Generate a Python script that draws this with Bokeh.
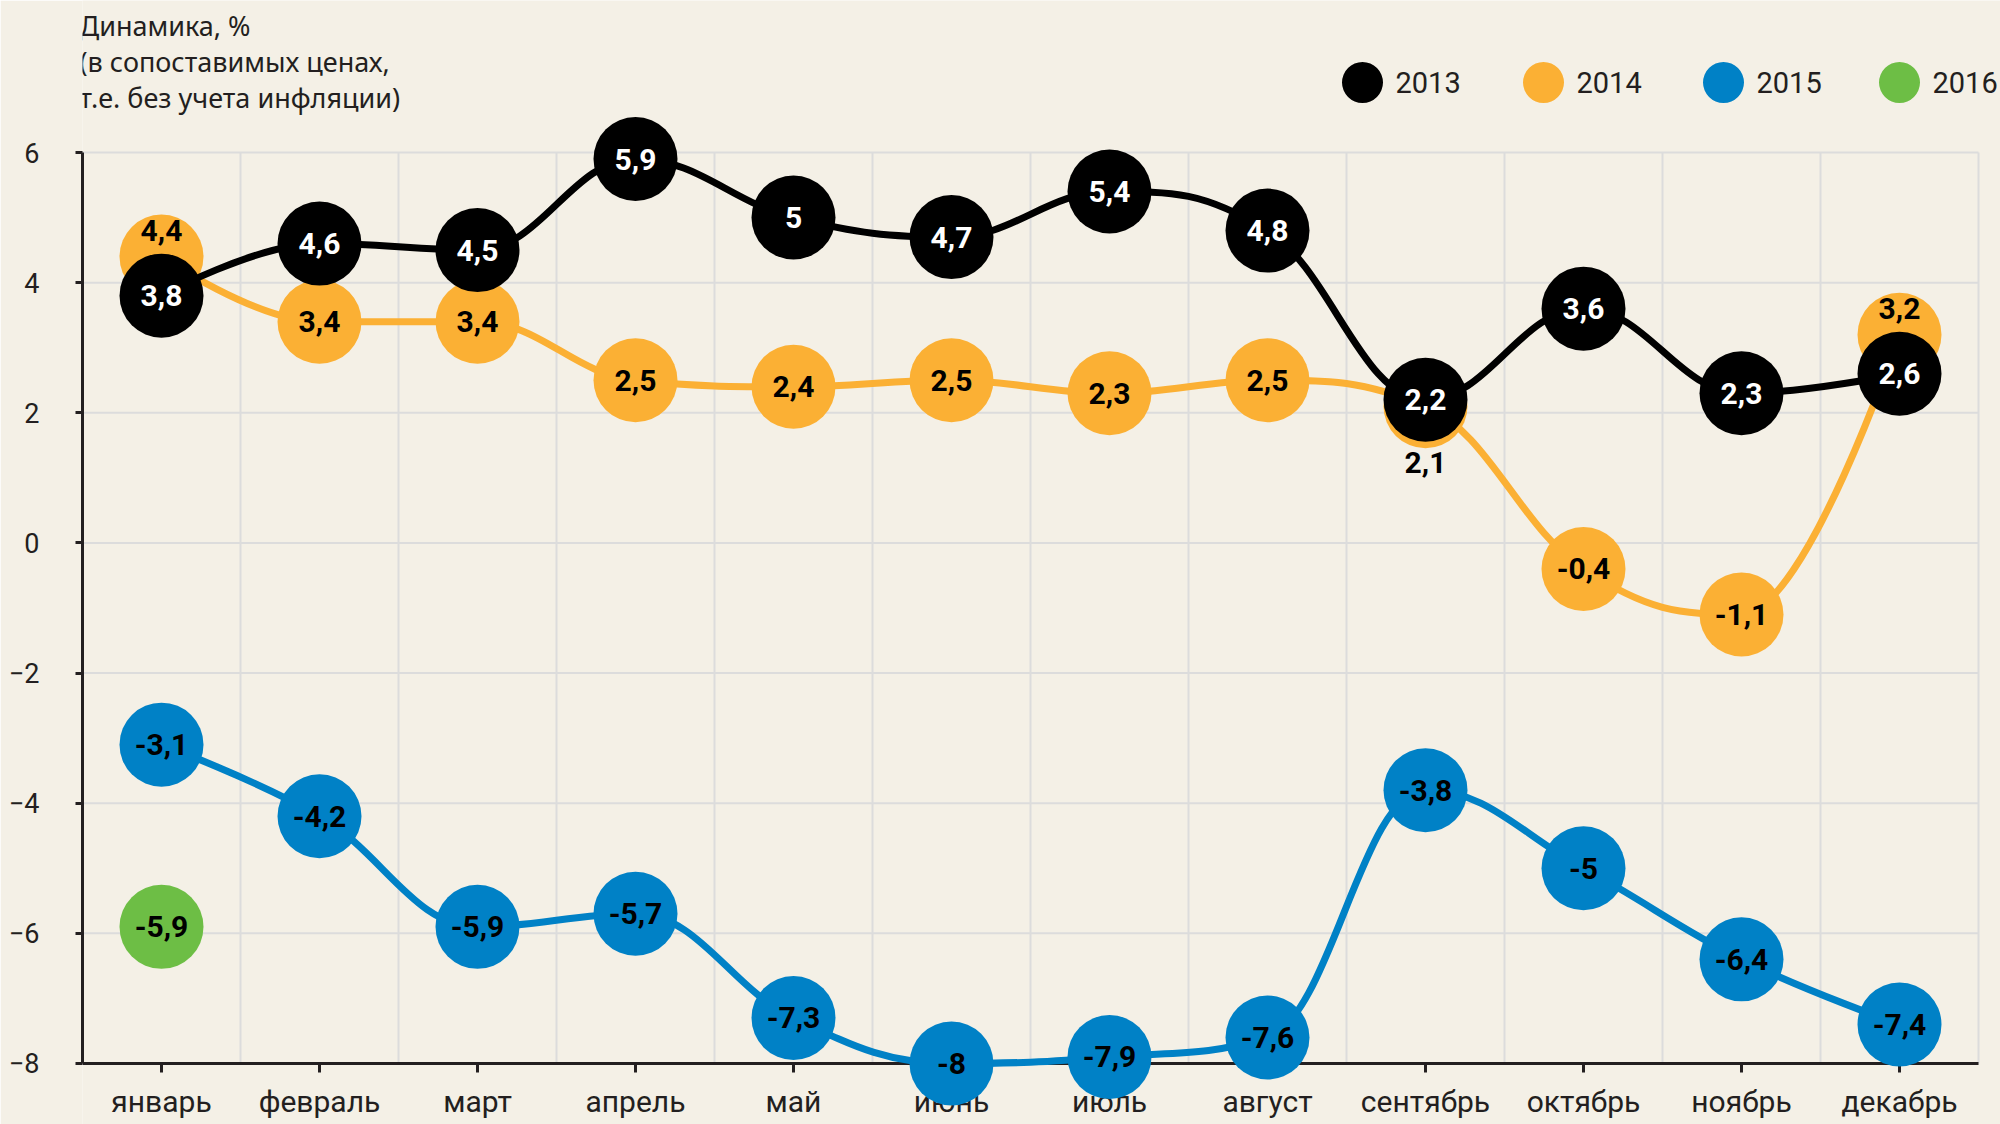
from bokeh.plotting import figure
from bokeh.models import FixedTicker, Label, Range1d, ColumnDataSource
from bokeh.core.properties import value
from bokeh.embed import file_html
from bokeh.resources import INLINE

# ---------------- data ----------------
months = ["январь", "февраль", "март", "апрель", "май", "июнь",
          "июль", "август", "сентябрь", "октябрь", "ноябрь", "декабрь"]
years = ["2013", "2014", "2015", "2016"]
v2013 = [3.8, 4.6, 4.5, 5.9, 5.0, 4.7, 5.4, 4.8, 2.2, 3.6, 2.3, 2.6]
v2014 = [4.4, 3.4, 3.4, 2.5, 2.4, 2.5, 2.3, 2.5, 2.1, -0.4, -1.1, 3.2]
v2015 = [-3.1, -4.2, -5.9, -5.7, -7.3, -8.0, -7.9, -7.6, -3.8, -5.0, -6.4, -7.4]
v2016 = [-5.9]
y_ticks = [-8, -6, -4, -2, 0, 2, 4, 6]
title_lines = ["Динамика, %", "(в сопоставимых ценах,", "т.е. без учета инфляции)"]

# ---------------- style ----------------
BG = "#F4F0E6"
GRID = "#DCDCDC"
INK = "#231F20"
C2013, C2014, C2015, C2016 = "#000000", "#FBB034", "#0081C6", "#6DBE45"
LBL = "Roboto"
SANS = "Noto Sans"

W, H = 2000, 1124
LEFT, RIGHT = 82, 0
X0_PX, DX = 161.0, 158.0          # canvas x of first month, px per month
Y6_PX, YPU = 152.0, 65.07         # canvas y of value 6, px per unit

x_start = -(X0_PX - LEFT) / DX
x_end = (W - RIGHT - X0_PX) / DX
x_last = len(months) - 0.5        # right edge of the plotting area
y_end = 6 + Y6_PX / YPU
y_start = 6 - (H - Y6_PX) / YPU


def dxp(px):
    return (px - X0_PX) / DX


def dyp(py):
    return 6 - (py - Y6_PX) / YPU


def fmt(v):
    return f"{v:g}".replace(".", ",")


def spline(xs, ys, smoothing=1.5):
    n = len(xs)
    den = smoothing + 1
    left = [None] * n
    right = [None] * n
    for i in range(n):
        x, y = xs[i], ys[i]
        if 0 < i < n - 1:
            lx = (smoothing * x + xs[i - 1]) / den
            ly = (smoothing * y + ys[i - 1]) / den
            rx = (smoothing * x + xs[i + 1]) / den
            ry = (smoothing * y + ys[i + 1]) / den
            if rx != lx:
                s = (ry - ly) / (rx - lx)
                ly = (lx - x) * s + y
                ry = (rx - x) * s + y
            if ly > max(ys[i - 1], y):
                ly = max(ys[i - 1], y); ry = 2 * y - ly
            elif ly < min(ys[i - 1], y):
                ly = min(ys[i - 1], y); ry = 2 * y - ly
            if ry > max(y, ys[i + 1]):
                ry = max(y, ys[i + 1]); ly = 2 * y - ry
            elif ry < min(y, ys[i + 1]):
                ry = min(y, ys[i + 1]); ly = 2 * y - ry
            left[i] = (lx, ly); right[i] = (rx, ry)
        else:
            left[i] = right[i] = (x, y)
    d = dict(x0=[], y0=[], x1=[], y1=[], cx0=[], cy0=[], cx1=[], cy1=[])
    for i in range(1, n):
        d["x0"].append(xs[i - 1]); d["y0"].append(ys[i - 1])
        d["x1"].append(xs[i]); d["y1"].append(ys[i])
        d["cx0"].append(right[i - 1][0]); d["cy0"].append(right[i - 1][1])
        d["cx1"].append(left[i][0]); d["cy1"].append(left[i][1])
    return d


p = figure(width=W, height=H, output_backend="svg", toolbar_location=None,
           x_range=Range1d(x_start, x_end), y_range=Range1d(y_start, y_end),
           background_fill_color=BG, border_fill_color=BG,
           min_border_left=LEFT, min_border_right=RIGHT,
           min_border_top=0, min_border_bottom=0)
p.outline_line_color = None

# grids (drawn as segments so they stop at the plotting area)
p.xgrid.visible = False
p.ygrid.visible = False
xs_idx = list(range(len(months)))
p.segment(x0=[i + 0.5 for i in xs_idx], x1=[i + 0.5 for i in xs_idx],
          y0=[min(y_ticks)] * len(xs_idx), y1=[max(y_ticks)] * len(xs_idx),
          line_color=GRID, line_width=2, level="underlay")
p.segment(x0=[x_start] * len(y_ticks), x1=[x_last] * len(y_ticks),
          y0=y_ticks, y1=y_ticks,
          line_color=GRID, line_width=2, level="underlay")

# axes
xa = p.xaxis[0]
xa.fixed_location = min(y_ticks)
xa.bounds = (x_start, x_last)
xa.level = "underlay"
xa.ticker = FixedTicker(ticks=xs_idx)
xa.major_label_overrides = {i: m for i, m in enumerate(months)}
xa.minor_tick_line_color = None
xa.major_tick_in = 0
xa.major_tick_out = 9
xa.major_tick_line_width = 3
xa.major_tick_line_color = INK
xa.axis_line_width = 3
xa.axis_line_color = INK
xa.major_label_standoff = 12
xa.major_label_text_font = LBL
xa.major_label_text_font_size = "30px"
xa.major_label_text_color = INK

ya = p.yaxis[0]
ya.bounds = (min(y_ticks), max(y_ticks))
ya.ticker = FixedTicker(ticks=y_ticks)
ya.minor_tick_line_color = None
ya.major_tick_in = 0
ya.major_tick_out = 7
ya.major_tick_line_width = 3
ya.major_tick_line_color = INK
ya.axis_line_width = 3
ya.axis_line_color = INK
ya.major_label_standoff = 36
ya.major_label_text_font = LBL
ya.major_label_text_font_size = "27px"
ya.major_label_text_color = INK

SIZE = 84
FONT_SIZE = "30px"


def series(vals, color, txt_color, dys=None):
    xs = list(range(len(vals)))
    if len(vals) > 1:
        p.bezier(source=ColumnDataSource(spline(xs, vals)), x0="x0", y0="y0",
                 x1="x1", y1="y1", cx0="cx0", cy0="cy0", cx1="cx1", cy1="cy1",
                 line_color=color, line_width=7, line_cap="round")
    src = ColumnDataSource(dict(x=xs, y=vals, t=[fmt(v) for v in vals],
                                dy=dys if dys else [0] * len(vals)))
    p.scatter("x", "y", source=src, size=SIZE, fill_color=color, line_color=None)
    p.text("x", "y", text="t", source=src, y_offset="dy",
           text_font=value(LBL), text_font_size=value(FONT_SIZE),
           text_font_style="bold", text_color=txt_color,
           text_align="center", text_baseline="middle")


label_dy_2014 = [-26, 0, 0, 0, 0, 0, 0, 0, 56, 0, 0, -26]

series(v2015, C2015, "#000000")
series(v2016, C2016, "#000000")
series(v2014, C2014, "#000000", label_dy_2014)
series(v2013, C2013, "#FFFFFF")

# legend
leg_px = [1362, 1543, 1723, 1899]
leg_y = dyp(82)
leg_src = ColumnDataSource(dict(x=[dxp(v) for v in leg_px], y=[leg_y] * 4,
                                c=[C2013, C2014, C2015, C2016]))
p.scatter("x", "y", source=leg_src, size=41, fill_color="c", line_color=None)
for px, yr in zip(leg_px, years):
    p.add_layout(Label(x=dxp(px + 33), y=leg_y, text=yr,
                       text_font=LBL, text_font_size="29px", text_color=INK,
                       text_align="left", text_baseline="middle"))

# title
for i, line in enumerate(title_lines):
    p.add_layout(Label(x=dxp(79), y=dyp(25 + 36 * i), text=line,
                       text_font=SANS, text_font_size="27px", text_color=INK,
                       text_align="left", text_baseline="middle"))

open("out.html", "w").write(file_html(p, INLINE))
